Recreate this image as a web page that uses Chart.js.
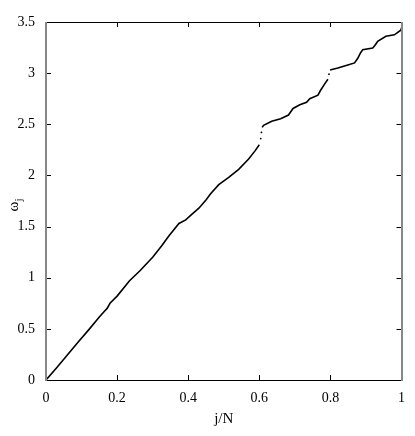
<!DOCTYPE html>
<html>
<head>
<meta charset="utf-8">
<script src="https://cdn.jsdelivr.net/npm/chart.js@4.4.1/dist/chart.umd.min.js"></script>
<style>
  html, body { margin: 0; padding: 0; background: #fff; }
  #wrap { width: 415px; height: 436px; position: relative; }
</style>
</head>
<body>
<div id="wrap"><canvas id="c" width="415" height="436"></canvas></div>
<script>
// j/N values (x) and omega_j values (y); null breaks the curve where it is sparse
const jN = [0, 0.03, 0.06, 0.09, 0.12, 0.15, 0.165, 0.172, 0.18, 0.2, 0.235, 0.265, 0.3, 0.325, 0.346, 0.374, 0.393, 0.41, 0.43, 0.45, 0.463, 0.486, 0.514, 0.542, 0.57, 0.588, 0.6,
  0.602, 0.604, 0.605, 0.606, 0.607,
  0.608, 0.612, 0.635, 0.66, 0.682, 0.695, 0.714, 0.733, 0.742, 0.765, 0.772, 0.784, 0.793,
  0.795, 0.796, 0.797,
  0.799, 0.821, 0.849, 0.868, 0.877, 0.885, 0.891, 0.919, 0.925, 0.933, 0.956, 0.98, 0.998, 1.0];
const omega = [0, 0.12, 0.245, 0.37, 0.49, 0.615, 0.675, 0.70, 0.75, 0.82, 0.97, 1.07, 1.2, 1.31, 1.41, 1.53, 1.565, 1.62, 1.68, 1.76, 1.82, 1.91, 1.98, 2.06, 2.16, 2.24, 2.30,
  null, 2.36, null, 2.42, null,
  2.47, 2.49, 2.53, 2.555, 2.59, 2.655, 2.69, 2.715, 2.75, 2.785, 2.83, 2.895, 2.94,
  null, 2.99, null,
  3.03, 3.05, 3.08, 3.10, 3.145, 3.2, 3.23, 3.245, 3.27, 3.31, 3.36, 3.375, 3.42, 3.44];
const xTicks = [0, 0.2, 0.4, 0.6, 0.8, 1];
const yTicks = [0, 0.5, 1, 1.5, 2, 2.5, 3, 3.5];
const xLabel = 'j/N';
const yLabelMain = 'ω';
const yLabelSub = 'j';

const points = jN.map((x, i) => ({ x: x, y: omega[i] }));
const FONT = "'Liberation Serif', 'Times New Roman', serif";

function isolated(i) {
  const prev = i > 0 ? omega[i - 1] : null;
  const next = i < omega.length - 1 ? omega[i + 1] : null;
  return omega[i] !== null && prev === null && next === null;
}

const framePlugin = {
  id: 'frame',
  afterDatasetsDraw(chart) {
    const { ctx, chartArea: a, scales } = chart;
    const xs = scales.x, ys = scales.y;
    ctx.save();
    ctx.strokeStyle = '#000';
    ctx.lineWidth = 1;
    const tl = 5;
    ctx.beginPath();
    xTicks.forEach(v => {
      const px = Math.round(xs.getPixelForValue(v)) + 0.5;
      ctx.moveTo(px, a.bottom); ctx.lineTo(px, a.bottom - tl);
      ctx.moveTo(px, a.top); ctx.lineTo(px, a.top + tl);
    });
    yTicks.forEach(v => {
      const py = Math.round(ys.getPixelForValue(v)) + 0.5;
      ctx.moveTo(a.left, py); ctx.lineTo(a.left + tl, py);
      ctx.moveTo(a.right, py); ctx.lineTo(a.right - tl, py);
    });
    ctx.stroke();
    ctx.beginPath();
    ctx.moveTo(a.left, Math.round(a.top) + 0.5); ctx.lineTo(a.right, Math.round(a.top) + 0.5);
    ctx.moveTo(a.left, Math.round(a.bottom) + 0.5); ctx.lineTo(a.right, Math.round(a.bottom) + 0.5);
    ctx.stroke();
    ctx.strokeStyle = '#888';
    ctx.lineWidth = 2;
    ctx.beginPath();
    ctx.moveTo(Math.round(a.left), a.top); ctx.lineTo(Math.round(a.left), a.bottom + 1);
    ctx.moveTo(Math.round(a.right), a.top); ctx.lineTo(Math.round(a.right), a.bottom + 1);
    ctx.stroke();
    // y axis title with subscript
    const cy = (a.top + a.bottom) / 2 + 4;
    ctx.translate(13, cy);
    ctx.rotate(-Math.PI / 2);
    ctx.fillStyle = '#000';
    ctx.textBaseline = 'alphabetic';
    ctx.font = '15px ' + FONT;
    const w1 = ctx.measureText(yLabelMain).width;
    ctx.font = '11px ' + FONT;
    const w2 = ctx.measureText(yLabelSub).width;
    const start = -(w1 + w2) / 2;
    ctx.font = '15px ' + FONT;
    ctx.textAlign = 'left';
    ctx.fillText(yLabelMain, start, 5);
    ctx.font = '11px ' + FONT;
    ctx.fillText(yLabelSub, start + w1, 9);
    ctx.restore();
  }
};

new Chart(document.getElementById('c'), {
  type: 'scatter',
  data: {
    datasets: [{
      data: points,
      showLine: true,
      spanGaps: false,
      borderColor: '#000',
      backgroundColor: '#000',
      borderWidth: 1.6,
      pointRadius: c => isolated(c.dataIndex) ? 0.9 : 0,
      pointBorderWidth: 0,
      pointHoverRadius: 0,
      tension: 0
    }]
  },
  options: {
    responsive: false,
    animation: false,
    devicePixelRatio: 1,
    layout: { padding: { left: 0, right: 11, top: 22, bottom: 0 } },
    plugins: { legend: { display: false }, tooltip: { enabled: false } },
    scales: {
      x: {
        type: 'linear', min: 0, max: 1,
        afterFit(s) { s.height = 56; },
        afterBuildTicks(s) { s.ticks = xTicks.map(v => ({ value: v })); },
        grid: { display: false, drawTicks: false },
        border: { display: false },
        ticks: {
          padding: 10,
          color: '#000',
          font: { family: FONT, size: 14 },
          maxRotation: 0,
          callback: v => String(Number(v.toFixed(2)))
        },
        title: {
          display: true, text: xLabel, color: '#000',
          font: { family: FONT, size: 15 },
          padding: { top: 0, bottom: 8 }
        }
      },
      y: {
        type: 'linear', min: 0, max: 3.5,
        afterFit(s) { s.width = 46; },
        afterBuildTicks(s) { s.ticks = yTicks.map(v => ({ value: v })); },
        grid: { display: false, drawTicks: false },
        border: { display: false },
        ticks: {
          padding: 11,
          color: '#000',
          font: { family: FONT, size: 14 },
          callback: v => String(Number(v.toFixed(2)))
        }
      }
    }
  },
  plugins: [framePlugin]
});
</script>
</body>
</html>
